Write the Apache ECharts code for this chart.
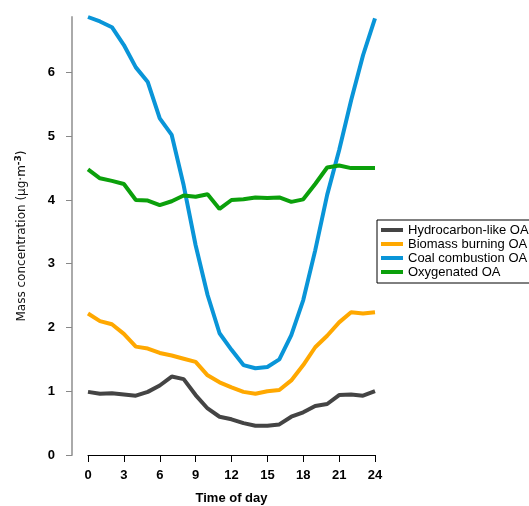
<!DOCTYPE html>
<html>
<head>
<meta charset="utf-8">
<script src="https://cdn.jsdelivr.net/npm/echarts@6/dist/echarts.min.js"></script>
<style>
  html, body { margin: 0; padding: 0; background: #fff; }
  #main { width: 529px; height: 506px; }
</style>
</head>
<body>
<div id="main"></div>
<script>
// hour of day (0..24)
const hours = [0,1,2,3,4,5,6,7,8,9,10,11,12,13,14,15,16,17,18,19,20,21,22,23,24];

const seriesNames = ['Hydrocarbon-like OA', 'Biomass burning OA', 'Coal combustion OA', 'Oxygenated OA'];

const hoa = [0.99,0.96,0.97,0.95,0.93,0.99,1.09,1.23,1.19,0.94,0.73,0.60,0.56,0.50,0.46,0.46,0.48,0.60,0.67,0.77,0.80,0.94,0.95,0.93,1.00];
const bboa = [2.22,2.10,2.05,1.90,1.70,1.67,1.60,1.56,1.51,1.46,1.25,1.14,1.06,0.99,0.96,1.00,1.02,1.17,1.41,1.69,1.87,2.08,2.24,2.22,2.24];
const ccoa = [6.87,6.80,6.71,6.43,6.08,5.85,5.28,5.02,4.23,3.29,2.51,1.91,1.65,1.41,1.36,1.38,1.50,1.88,2.43,3.21,4.08,4.78,5.56,6.27,6.85];
const ooa = [4.48,4.34,4.30,4.25,4.00,3.99,3.92,3.98,4.07,4.05,4.09,3.86,4.00,4.01,4.04,4.03,4.04,3.97,4.01,4.25,4.51,4.54,4.50,4.50,4.50];

const yTicks = [0,1,2,3,4,5,6];
const xTicks = [0,3,6,9,12,15,18,21,24];

const colors = ['#444444', '#ffa800', '#0995d8', '#0ba00b'];
const allValues = [hoa, bboa, ccoa, ooa];

const chart = echarts.init(document.getElementById('main'), null, { renderer: 'canvas' });

const labelFont = { color: '#000', fontSize: 13, fontWeight: 'bold', fontFamily: 'Liberation Sans, Arial, sans-serif' };

const option = {
  backgroundColor: '#fff',
  animation: false,
  color: colors,
  grid: { left: 88, right: 154, top: 17, bottom: 51, outerBoundsMode: 'none', containLabel: false },
  legend: {
    orient: 'vertical',
    left: 377,
    top: 220,
    padding: [3, 30, 4, 4],
    itemGap: 0,
    itemWidth: 22,
    itemHeight: 4,
    icon: 'rect',
    borderColor: '#000',
    borderWidth: 1,
    borderRadius: 0,
    textStyle: { color: '#000', fontSize: 13, lineHeight: 14, fontFamily: 'Liberation Sans, Arial, sans-serif' },
    data: seriesNames
  },
  xAxis: {
    type: 'value',
    min: 0,
    max: 24,
    interval: 3,
    name: 'Time of day',
    nameLocation: 'middle',
    nameGap: 37,
    nameMoveOverlap: false,
    nameTextStyle: labelFont,
    splitLine: { show: false },
    axisLine: { show: true, onZero: false, lineStyle: { color: '#000', width: 1 } },
    axisTick: { show: true, length: 7, lineStyle: { color: '#000' } },
    axisLabel: Object.assign({ margin: 14, customValues: xTicks }, labelFont)
  },
  yAxis: {
    type: 'value',
    min: 0,
    max: 6.87,
    interval: 1,
    offset: 16,
    name: '{n|Mass concentration (µg·m}{s|-3}{n|)}',
    nameLocation: 'middle',
    nameGap: 42,
    nameMoveOverlap: false,
    nameTextStyle: {
      rich: {
        n: { fontSize: 12, color: '#111', fontFamily: 'DejaVu Sans, sans-serif' },
        s: { fontSize: 9, fontWeight: 'bold', color: '#111', padding: [0, 0, 7, 0], fontFamily: 'DejaVu Sans, sans-serif' }
      }
    },
    splitLine: { show: false },
    axisLine: { show: true, onZero: false, lineStyle: { color: '#aaa', width: 2 } },
    axisTick: { show: true, length: 6, lineStyle: { color: '#888' }, customValues: yTicks },
    axisLabel: Object.assign({ margin: 17, customValues: yTicks }, labelFont)
  },
  series: seriesNames.map((name, i) => ({
    name: name,
    type: 'line',
    data: hours.map((h, j) => [h, allValues[i][j]]),
    showSymbol: false,
    symbol: 'none',
    lineStyle: { width: 4, color: colors[i] },
    itemStyle: { color: colors[i] }
  }))
};

chart.setOption(option);
</script>
</body>
</html>
